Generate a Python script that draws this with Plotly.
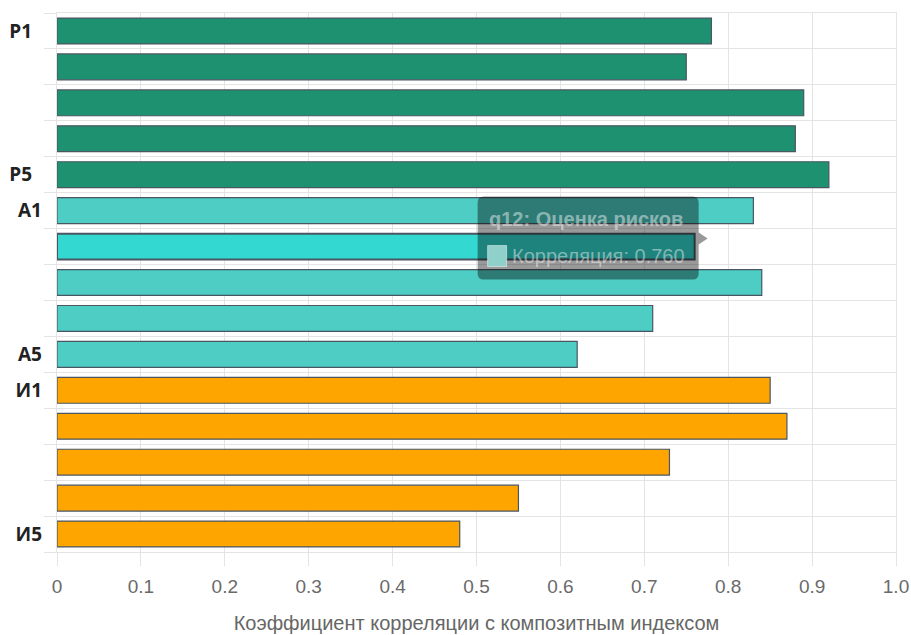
import plotly.graph_objects as go

# ---- data ----
categories = ["Р1", "Р2", "Р3", "Р4", "Р5",
              "А1", "А2", "А3", "А4", "А5",
              "И1", "И2", "И3", "И4", "И5"]
values = [0.78, 0.75, 0.89, 0.88, 0.92,
          0.83, 0.76, 0.84, 0.71, 0.62,
          0.85, 0.87, 0.73, 0.55, 0.48]
groups = ["Р"] * 5 + ["А"] * 5 + ["И"] * 5
shown_labels = ["Р1", "Р5", "А1", "А5", "И1", "И5"]
x_tick_values = [0, 0.1, 0.2, 0.3, 0.4, 0.5, 0.6, 0.7, 0.8, 0.9, 1.0]
x_tick_text = ["0", "0.1", "0.2", "0.3", "0.4", "0.5", "0.6", "0.7", "0.8", "0.9", "1.0"]
x_title = "Коэффициент корреляции с композитным индексом"
hover_index = 6
tooltip_title = "q12: Оценка рисков"
tooltip_label = "Корреляция"

# ---- styles ----
group_colors = {"Р": "#1e9270", "А": "#4ecdc4", "И": "#ffa500"}
hover_color = "#33d9d0"
border_color = "#4a5662"
grid = "#e4e4e4"
axis_font = "Liberation Sans, Arial, sans-serif"

n = len(categories)
positions = list(range(n))
colors = [group_colors[g] for g in groups]
colors[hover_index] = hover_color
line_widths = [1.2] * n
line_widths[hover_index] = 2

fig = go.Figure()
fig.add_trace(go.Bar(
    x=values, y=positions, orientation="h", width=0.72,
    marker=dict(color=colors, line=dict(color=border_color, width=line_widths)),
    hoverinfo="skip", showlegend=False,
))
# invisible helper trace so the label axis is drawn
fig.add_trace(go.Scatter(x=[values[0]], y=[positions[0]], yaxis="y2", mode="markers",
                         marker=dict(opacity=0), hoverinfo="skip", showlegend=False))

label_pos = [categories.index(l) for l in shown_labels]
label_text = [(l + "\u00a0\u00a0") if l.startswith("Р") else l for l in shown_labels]
boundaries = [i - 0.5 for i in range(n + 1)]

fig.update_layout(
    width=911, height=635,
    margin=dict(l=57, r=15, t=13, b=83, autoexpand=False),
    plot_bgcolor="white", paper_bgcolor="white",
    showlegend=False,
    xaxis=dict(
        range=[0, 1], tickmode="array", tickvals=x_tick_values, ticktext=x_tick_text,
        showgrid=True, gridcolor=grid, gridwidth=1,
        ticks="outside", ticklen=13, tickcolor=grid,
        showline=True, linecolor=grid, mirror=True, zeroline=False,
        automargin=False, ticklabelstandoff=4,
        tickfont=dict(family=axis_font, size=19, color="#6a6a6a"),
        title=dict(text=x_title, font=dict(family=axis_font, size=20, color="#666666"), standoff=20),
    ),
    yaxis=dict(
        range=[n - 0.5, -0.5], tickmode="array", tickvals=boundaries,
        ticktext=[""] * len(boundaries),
        showgrid=True, gridcolor=grid, gridwidth=1,
        ticks="outside", ticklen=12, tickcolor=grid,
        showline=True, linecolor=grid, mirror=True, zeroline=False,
        automargin=False,
    ),
    yaxis2=dict(
        overlaying="y", anchor="x", side="left",
        range=[n - 0.5, -0.5], tickmode="array", tickvals=label_pos, ticktext=label_text,
        showgrid=False, ticks="", zeroline=False, showline=False,
        ticklabelstandoff=14, automargin=False,
        tickfont=dict(family="Open Sans, DejaVu Sans, sans-serif", size=19,
                      color="#222222", weight="bold"),
    ),
)

# ---- tooltip (anchored to hovered bar) ----
hx = values[hover_index]
hy = positions[hover_index]
x0, x1, yt, yb, r = -217, 4, 50, -33, 6
yc = 8
path = (f"M {x0+r},{yt} L {x1-r},{yt} Q {x1},{yt} {x1},{yt-r} "
        f"L {x1},{yb+r} Q {x1},{yb} {x1-r},{yb} L {x0+r},{yb} "
        f"Q {x0},{yb} {x0},{yb+r} L {x0},{yt-r} Q {x0},{yt} {x0+r},{yt} Z "
        f"M {x1},{yc+6} L {x1+9},{yc} L {x1},{yc-6} Z")
fig.add_shape(type="path", path=path, xref="x", yref="y",
              xsizemode="pixel", ysizemode="pixel", xanchor=hx, yanchor=hy,
              fillcolor="rgba(0,0,0,0.4)", line=dict(width=0), layer="above")
fig.add_shape(type="rect", xref="x", yref="y",
              xsizemode="pixel", ysizemode="pixel", xanchor=hx, yanchor=hy,
              x0=-207, x1=-188, y0=-20, y1=1,
              fillcolor="#8fd0cb", line=dict(color="rgba(255,255,255,0.5)", width=1), layer="above")
tip_font = "Liberation Sans, Arial, sans-serif"
fig.add_annotation(x=hx, y=hy, xref="x", yref="y", xshift=-208, yshift=28,
                   xanchor="left", yanchor="middle", showarrow=False,
                   text=f"<b>{tooltip_title}</b>",
                   font=dict(family=tip_font, size=20, color="rgba(255,255,255,0.45)"))
fig.add_annotation(x=hx, y=hy, xref="x", yref="y", xshift=-185, yshift=-9,
                   xanchor="left", yanchor="middle", showarrow=False,
                   text=f"{tooltip_label}: {hx:.3f}",
                   font=dict(family=tip_font, size=20, color="rgba(255,255,255,0.45)"))

fig.write_html("out.html")
